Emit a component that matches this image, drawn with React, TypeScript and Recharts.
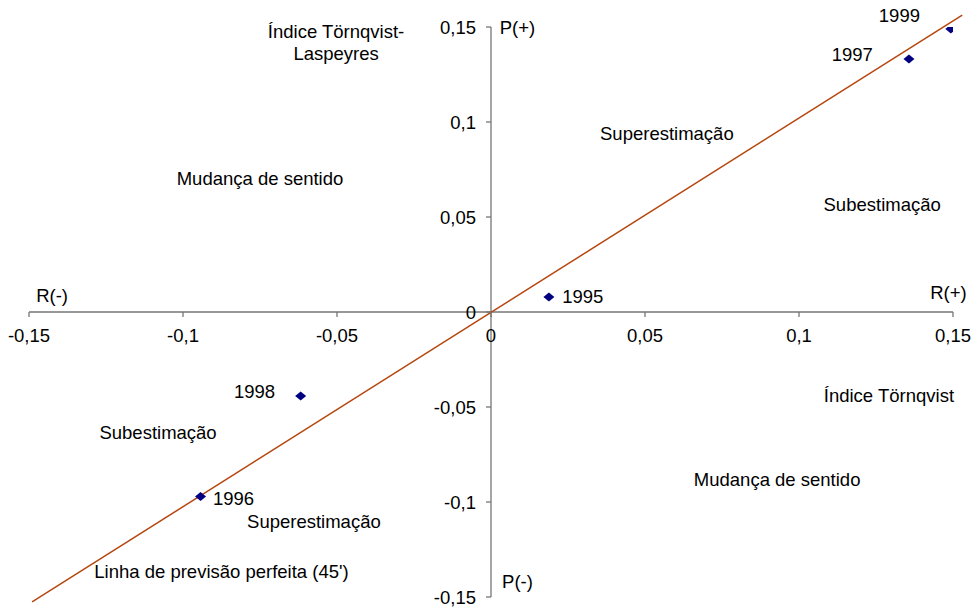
import { ScatterChart, Scatter, XAxis, YAxis, ReferenceLine, ReferenceDot } from 'recharts';

// Anos e coordenadas (R no eixo x, P no eixo y)
const years = ['1995', '1996', '1997', '1998', '1999'];
const rValues = [0.0188, -0.0943, 0.1357, -0.0618, 0.1493];
const pValues = [0.0079, -0.0971, 0.1332, -0.0442, 0.149];

const xTicks = [-0.15, -0.1, -0.05, 0, 0.05, 0.1, 0.15];
const yTicks = [-0.15, -0.1, -0.05, 0, 0.05, 0.1, 0.15];

// linha de previsão perfeita
const perfectLine = [
  { x: -0.149, y: -0.1526 },
  { x: 0.153, y: 0.1563 },
];

// textos do gráfico, em coordenadas dos dados
const noteTexts = [
  'Índice Törnqvist-', 'Laspeyres', 'Mudança de sentido', 'Superestimação', 'Subestimação',
  'R(-)', 'R(+)', 'P(+)', 'P(-)', 'Índice Törnqvist', 'Mudança de sentido', 'Subestimação',
  'Superestimação', "Linha de previsão perfeita (45')",
];
const noteX = [-0.0503, -0.0503, -0.075, 0.0571, 0.127, -0.1425, 0.1485, 0.0086, 0.0086, 0.1292, 0.0929, -0.1081, -0.0575, -0.0875];
const noteY = [0.1474, 0.1363, 0.0705, 0.0937, 0.0568, 0.0089, 0.0105, 0.1495, -0.1421, -0.0442, -0.0879, -0.0632, -0.11, -0.1368];

// rótulos dos anos
const yearLabelX = [0.0231, -0.0903, 0.124, -0.0701, 0.1326];
const yearLabelY = [0.0079, -0.0979, 0.1353, -0.0421, 0.1558];
const yearLabelAnchor = ['start', 'start', 'end', 'end', 'middle'];

const points = years.map((year, i) => ({ year, x: rValues[i], y: pValues[i] }));

const FONT = '"Liberation Sans", Arial, sans-serif';
const FS = 18.5;
const AXIS = '#767676';

const fmt = (v: number) => String(v).replace('.', ',');

function Diamond(props: any) {
  const { cx, cy } = props;
  return (
    <polygon
      points={`${cx - 5.5},${cy} ${cx},${cy - 4.5} ${cx + 5.5},${cy} ${cx},${cy + 4.5}`}
      fill="#000080"
    />
  );
}

function XTick({ cx, cy, value }: any) {
  return (
    <g>
      <line x1={cx} y1={cy} x2={cx} y2={cy + 5} stroke={AXIS} strokeWidth={1.3} />
      <text x={cx} y={cy + 23} textAnchor="middle" dominantBaseline="central" fontFamily={FONT} fontSize={FS} fill="#000">
        {fmt(value)}
      </text>
    </g>
  );
}

function YTick({ cx, cy, value }: any) {
  return (
    <g>
      <line x1={cx - 5} y1={cy} x2={cx} y2={cy} stroke={AXIS} strokeWidth={1.3} />
      <text x={cx - 15} y={cy} textAnchor="end" dominantBaseline="central" fontFamily={FONT} fontSize={FS} fill="#000">
        {fmt(value)}
      </text>
    </g>
  );
}

function Note({ cx, cy, text, anchor }: any) {
  return (
    <text x={cx} y={cy} textAnchor={anchor} dominantBaseline="central" fontFamily={FONT} fontSize={FS} fill="#000">
      {text}
    </text>
  );
}

export default function App() {
  return (
    <div style={{ width: 975, height: 608 }}>
      <style>{'html,body{margin:0;padding:0;overflow:hidden}.recharts-surface{overflow:visible}'}</style>
      <ScatterChart width={975} height={608} margin={{ top: 27, right: 22, bottom: 11, left: 29 }}>
        <XAxis type="number" dataKey="x" domain={[-0.15, 0.15]} allowDataOverflow hide />
        <YAxis type="number" dataKey="y" domain={[-0.15, 0.15]} allowDataOverflow hide />

        <ReferenceLine y={0} stroke={AXIS} strokeWidth={1.3} />
        <ReferenceLine x={0} stroke={AXIS} strokeWidth={1.3} />

        {xTicks.map((v) => (
          <ReferenceDot key={'x' + v} x={v} y={0} ifOverflow="visible" shape={(p: any) => <XTick {...p} value={v} />} />
        ))}
        {yTicks.map((v) => (
          <ReferenceDot key={'y' + v} x={0} y={v} ifOverflow="visible" shape={(p: any) => <YTick {...p} value={v} />} />
        ))}

        <ReferenceLine segment={perfectLine} stroke="#b5470e" strokeWidth={1.5} ifOverflow="visible" />

        {noteTexts.map((t, i) => (
          <ReferenceDot
            key={'n' + i}
            x={noteX[i]}
            y={noteY[i]}
            ifOverflow="visible"
            shape={(p: any) => <Note {...p} text={t} anchor="middle" />}
          />
        ))}

        <Scatter data={points} shape={<Diamond />} isAnimationActive={false} />

        {years.map((yr, i) => (
          <ReferenceDot
            key={'l' + yr}
            x={yearLabelX[i]}
            y={yearLabelY[i]}
            ifOverflow="visible"
            shape={(p: any) => <Note {...p} text={yr} anchor={yearLabelAnchor[i]} />}
          />
        ))}
      </ScatterChart>
    </div>
  );
}
